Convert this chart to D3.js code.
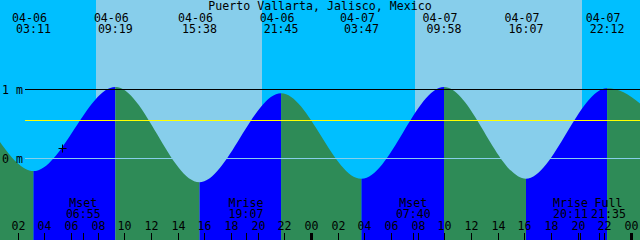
<!DOCTYPE html>
<html><head><meta charset="utf-8">
<script src="https://cdn.jsdelivr.net/npm/d3@7"></script>
<style>
html,body{margin:0;padding:0;background:#fff;overflow:hidden}
text{font-family:"DejaVu Sans Mono",monospace;font-size:11.6px;fill:#000}
</style></head><body>
<svg id="c" width="640" height="240"></svg>
<script>
const title = "Puerto Vallarta, Jalisco, Mexico";
const tideTimes = ["2024-04-05 14:55","2024-04-05 21:05","2024-04-06 03:11","2024-04-06 09:19","2024-04-06 15:38","2024-04-06 21:45","2024-04-07 03:47","2024-04-07 09:58","2024-04-07 16:07","2024-04-07 22:12","2024-04-08 04:40"];
const tideHeights = [-0.30,0.95,-0.19,1.03,-0.35,0.94,-0.30,1.03,-0.30,1.01,-0.15];
const tideLabelled = [false,false,true,true,true,true,true,true,true,true,false];
const sunTimes = ["2024-04-06 07:52","2024-04-06 20:19","2024-04-07 07:47","2024-04-07 20:19"];
const moonEvents = ["Mset","Mrise","Mset","Mrise","Full"];
const moonTimes = ["2024-04-06 06:55","2024-04-06 19:07","2024-04-07 07:40","2024-04-07 20:11","2024-04-07 21:35"];
const levelLines = [1,0.55,0];
const levelColors = ["#000000","#ffff00","#87ceeb"];
const yLabels = [1,0];
const nowTime = "2024-04-06 05:21", nowHeight = 0.145;
const viewStart = "2024-04-06 00:40", viewEnd = "2024-04-08 00:40";

const parse = d3.timeParse("%Y-%m-%d %H:%M");
const W = 640, H = 240;
const svg = d3.select("#c");
const x = d3.scaleTime().domain([parse(viewStart), parse(viewEnd)]).range([0, W]);
const y = d3.scaleLinear().domain([0, 1]).range([158, 89]);

const NIGHT = "#00bfff", DAY = "#87ceeb", FLOOD = "#0000ff", EBB = "#2e8b57";

// day/night background
const sun = sunTimes.map(parse);
const bounds = [parse(viewStart), ...sun, parse(viewEnd)];
for (let i = 0; i < bounds.length - 1; i++) {
  svg.append("rect").attr("x", x(bounds[i])).attr("y", 0)
    .attr("width", x(bounds[i+1]) - x(bounds[i])).attr("height", H)
    .attr("fill", i % 2 === 0 ? NIGHT : DAY).attr("shape-rendering","crispEdges");
}

// tide data
const tide = tideTimes.map((t, i) => ({t: parse(t), h: tideHeights[i], lab: tideLabelled[i]}));
const area = d3.area().x(d => x(d.t)).y0(H).y1(d => y(d.h)).curve(d3.curveMonotoneX);
const defs = svg.append("defs");
for (let i = 0; i < tide.length - 1; i++) {
  const a = tide[i], b = tide[i+1];
  const id = "seg" + i;
  defs.append("clipPath").attr("id", id).append("rect")
    .attr("x", x(a.t)).attr("y", 0).attr("width", x(b.t) - x(a.t)).attr("height", H);
  svg.append("path").datum(tide).attr("d", area)
    .attr("fill", b.h > a.h ? FLOOD : EBB).attr("clip-path", `url(#${id})`);
}

// level lines
levelLines.forEach((v, i) => {
  svg.append("line").attr("x1", 25).attr("x2", W)
    .attr("y1", Math.round(y(v)) + 0.5).attr("y2", Math.round(y(v)) + 0.5)
    .attr("stroke", levelColors[i]).attr("stroke-width", 1);
});
yLabels.forEach(v => {
  svg.append("text").attr("x", 2).attr("y", y(v) + 4.5).text(v + " m");
});

// title
svg.append("text").attr("x", W/2).attr("y", 10).attr("text-anchor", "middle").text(title);

// tide labels
const fmtD = d3.timeFormat("%m-%d"), fmtT = d3.timeFormat("%H:%M");
tide.filter(d => d.lab).forEach(d => {
  svg.append("text").attr("x", x(d.t) - 4).attr("y", 22).attr("text-anchor", "middle").text(fmtD(d.t));
  svg.append("text").attr("x", x(d.t)).attr("y", 33).attr("text-anchor", "middle").text(fmtT(d.t));
});

// now marker
const nx = Math.round(x(parse(nowTime))) + 0.5, ny = Math.round(y(nowHeight)) + 0.5;
svg.append("path").attr("d", `M${nx-4},${ny}H${nx+4}M${nx},${ny-4}V${ny+4}`)
  .attr("stroke", "#000").attr("stroke-width", 1);

// hour ticks
const hours = d3.timeHour.every(2).range(parse(viewStart), parse(viewEnd));
const fmtH = d3.timeFormat("%H");
hours.forEach(h => {
  const px = Math.round(x(h));
  const mid = h.getHours() === 0;
  svg.append("rect").attr("x", mid ? px - 1 : px).attr("y", 233)
    .attr("width", mid ? 3 : 1).attr("height", 7).attr("fill", "#000");
  svg.append("text").attr("x", px + 0.5).attr("y", 230).attr("text-anchor", "middle").text(fmtH(h));
});

// moon events
const moon = moonTimes.map((t, i) => ({t: parse(t), name: moonEvents[i]}));
moon.forEach(m => { m.cx = x(m.t); });
for (let i = 0; i < moon.length - 1; i++) {
  const a = moon[i], b = moon[i+1], need = 38;
  if (b.cx - a.cx < need) { const s = (need - (b.cx - a.cx)) / 2; a.cx -= s; b.cx += s; }
}
moon.forEach(m => {
  svg.append("rect").attr("x", Math.round(x(m.t))).attr("y", 233).attr("width", 1).attr("height", 7).attr("fill", "#000");
  svg.append("text").attr("x", m.cx).attr("y", 207).attr("text-anchor", "middle").text(m.name);
  svg.append("text").attr("x", m.cx).attr("y", 218).attr("text-anchor", "middle").text(fmtT(m.t));
});
</script></body></html>
